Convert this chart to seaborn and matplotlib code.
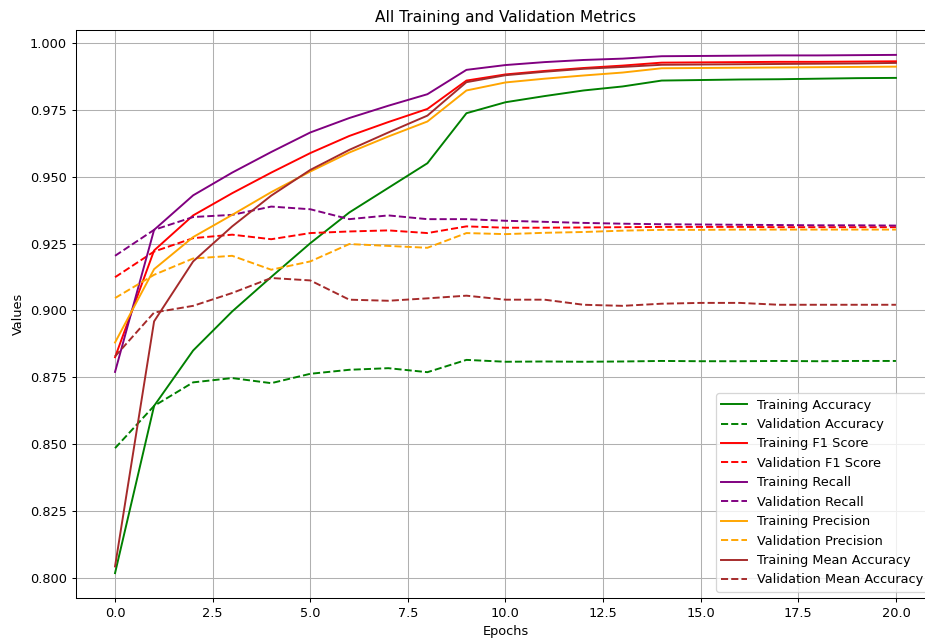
import matplotlib
matplotlib.use("Agg")
import matplotlib.pyplot as plt
import seaborn as sns
import numpy as np

epochs = list(range(21))

train_acc = [0.8018, 0.8643, 0.8850, 0.8996, 0.9125, 0.9251, 0.9366, 0.9458, 0.9550, 0.9737,
             0.9778, 0.9801, 0.9822, 0.9837, 0.9859, 0.9861, 0.9863, 0.9864, 0.9866, 0.9868, 0.9869]
val_acc = [0.8485, 0.8643, 0.8731, 0.8747, 0.8728, 0.8763, 0.8778, 0.8784, 0.8769, 0.8815,
           0.8808, 0.8809, 0.8808, 0.8809, 0.8811, 0.8810, 0.8810, 0.8811, 0.8810, 0.8811, 0.8811]

train_f1 = [0.8825, 0.9224, 0.9355, 0.9438, 0.9515, 0.9588, 0.9652, 0.9704, 0.9753, 0.9859,
            0.9882, 0.9895, 0.9906, 0.9915, 0.9926, 0.9927, 0.9928, 0.9929, 0.9929, 0.9930, 0.9931]
val_f1 = [0.9124, 0.9220, 0.9270, 0.9283, 0.9266, 0.9289, 0.9295, 0.9299, 0.9289, 0.9314,
          0.9309, 0.9309, 0.9310, 0.9311, 0.9312, 0.9312, 0.9312, 0.9311, 0.9311, 0.9311, 0.9311]

train_recall = [0.8770, 0.9301, 0.9430, 0.9515, 0.9592, 0.9665, 0.9719, 0.9765, 0.9808, 0.9899,
                0.9917, 0.9928, 0.9936, 0.9941, 0.9950, 0.9951, 0.9952, 0.9953, 0.9953, 0.9954, 0.9955]
val_recall = [0.9204, 0.9301, 0.9349, 0.9357, 0.9388, 0.9378, 0.9341, 0.9355, 0.9341, 0.9341,
              0.9335, 0.9331, 0.9327, 0.9324, 0.9322, 0.9321, 0.9320, 0.9319, 0.9318, 0.9318, 0.9317]

train_prec = [0.8880, 0.9154, 0.9274, 0.9357, 0.9442, 0.9519, 0.9590, 0.9650, 0.9706, 0.9822,
              0.9852, 0.9866, 0.9878, 0.9889, 0.9905, 0.9906, 0.9907, 0.9908, 0.9909, 0.9910, 0.9911]
val_prec = [0.9046, 0.9133, 0.9194, 0.9204, 0.9152, 0.9183, 0.9248, 0.9241, 0.9234, 0.9289,
            0.9285, 0.9290, 0.9293, 0.9298, 0.9301, 0.9301, 0.9302, 0.9302, 0.9302, 0.9302, 0.9302]

train_mean = [0.8043, 0.8959, 0.9183, 0.9314, 0.9429, 0.9525, 0.9600, 0.9665, 0.9728, 0.9853,
              0.9879, 0.9892, 0.9903, 0.9910, 0.9918, 0.9919, 0.9920, 0.9921, 0.9922, 0.9923, 0.9925]
val_mean = [0.8828, 0.8992, 0.9017, 0.9065, 0.9121, 0.9112, 0.9040, 0.9036, 0.9045, 0.9055,
            0.9040, 0.9040, 0.9021, 0.9017, 0.9025, 0.9028, 0.9028, 0.9021, 0.9021, 0.9021, 0.9021]

series = [
    ("Training Accuracy", train_acc, "green", "-"),
    ("Validation Accuracy", val_acc, "green", "--"),
    ("Training F1 Score", train_f1, "red", "-"),
    ("Validation F1 Score", val_f1, "red", "--"),
    ("Training Recall", train_recall, "purple", "-"),
    ("Validation Recall", val_recall, "purple", "--"),
    ("Training Precision", train_prec, "orange", "-"),
    ("Validation Precision", val_prec, "orange", "--"),
    ("Training Mean Accuracy", train_mean, "brown", "-"),
    ("Validation Mean Accuracy", val_mean, "brown", "--"),
]

DPI = 92.5
fig = plt.figure(figsize=(925 / DPI, 639 / DPI), dpi=DPI)
ax = fig.add_axes([76 / 925, 41 / 639, 859 / 925, 568 / 639])

for label, vals, color, ls in series:
    sns.lineplot(x=epochs, y=vals, color=color, linestyle=ls, label=label, ax=ax, linewidth=1.5)

ax.set_title("All Training and Validation Metrics", fontsize=12)
ax.set_xlabel("Epochs")
ax.set_ylabel("Values")
ax.set_xlim(-1, 21)
ax.set_ylim(0.7925, 1.0048)
ax.set_xticks([0, 2.5, 5, 7.5, 10, 12.5, 15, 17.5, 20])
ax.set_xticklabels(["0.0", "2.5", "5.0", "7.5", "10.0", "12.5", "15.0", "17.5", "20.0"])
ax.set_yticks([0.8, 0.825, 0.85, 0.875, 0.9, 0.925, 0.95, 0.975, 1.0])
ax.set_yticklabels(["0.800", "0.825", "0.850", "0.875", "0.900", "0.925", "0.950", "0.975", "1.000"])
ax.grid(True, color="#b0b0b0", linewidth=0.8)
ax.legend(loc="lower right", fontsize=10)

fig.savefig("out.png", dpi=DPI)
